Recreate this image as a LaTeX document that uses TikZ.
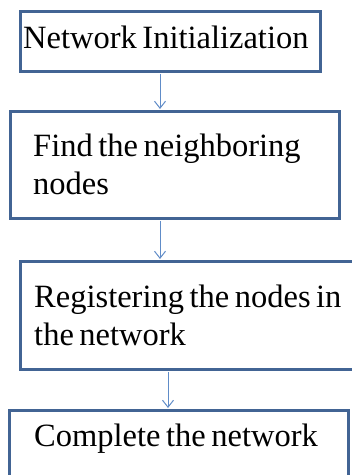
\documentclass[tikz,border=0pt]{standalone}
\usepackage{fontspec}
\setmainfont{Liberation Serif}
\usepackage{tikz}
\usetikzlibrary{arrows.meta,positioning}

\definecolor{boxblue}{RGB}{66,100,148}
\definecolor{arrowblue}{RGB}{96,140,200}
\DeclareRobustCommand\stagefont{\fontsize{32.5}{38}\selectfont\spaceskip=0.17em plus 0.05em\relax}

\begin{document}
\begin{tikzpicture}[x=1pt, y=-1pt]
\tikzset{
    stagebox/.style={rectangle, draw=boxblue, line width=2.5pt, fill=white, anchor=north west, align=flush left, inner ysep=0pt, font=\stagefont},
    myarrow/.style={-{Straight Barb[length=7pt,width=11pt]}, draw=arrowblue, line width=1pt, shorten >=1pt, shorten <=1.25pt}
}
\useasboundingbox (0,0) rectangle (352,475);

\node[stagebox, inner xsep=3pt, text width=294pt, minimum height=60pt, text height=21pt, text depth=7pt] (init) at (19,10) {Network Initialization};
\node[stagebox, inner xsep=23pt, text width=283pt, minimum height=107pt] (find) at (9,110) {Find the neighboring\\nodes};
\node[stagebox, inner xsep=14pt, text width=330pt, minimum height=108pt] (register) at (19,260) {Registering the nodes in\\the network};
\node[stagebox, inner xsep=25pt, inner ysep=14pt, text width=289pt, text height=22pt, text depth=60pt] (complete) at (8,409) {Complete the network};

\coordinate (col1) at (160,0);
\coordinate (col2) at (168,0);

\draw[myarrow] (init.south -| col1) -- (find.north -| col1);
\draw[myarrow] (find.south -| col1) -- (register.north -| col1);
\draw[myarrow] (register.south -| col2) -- (complete.north -| col2);

\end{tikzpicture}
\end{document}
